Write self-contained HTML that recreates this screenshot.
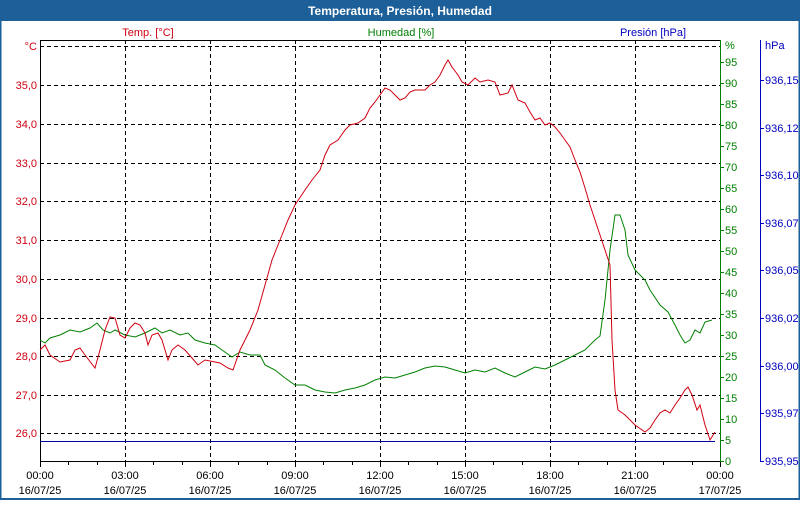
<!DOCTYPE html>
<html><head><style>
body{margin:0;width:800px;height:500px;overflow:hidden;background:#fff;font-family:"Liberation Sans","DejaVu Sans",sans-serif}
</style></head><body>
<svg width="800" height="500" xmlns="http://www.w3.org/2000/svg" font-family="Liberation Sans, DejaVu Sans, sans-serif" font-size="11">
<rect x="0" y="0" width="800" height="500" fill="#fff"/>
<rect x="0" y="0" width="800" height="21" fill="#1d5f98"/>
<rect x="0" y="0" width="1.5" height="500" fill="#1d5f98"/>
<rect x="798.5" y="0" width="1.5" height="500" fill="#1d5f98"/>
<rect x="0" y="498" width="800" height="2" fill="#1d5f98"/>
<text x="400" y="15" text-anchor="middle" fill="#fff" font-weight="bold" font-size="12">Temperatura, Presión, Humedad</text>
<text x="148" y="36" text-anchor="middle" fill="#d00010">Temp. [°C]</text>
<text x="401" y="36" text-anchor="middle" fill="#008000">Humedad [%]</text>
<text x="653" y="36" text-anchor="middle" fill="#0000c0">Presión [hPa]</text>
<g stroke="#000" stroke-dasharray="4,3" stroke-width="1">
<line x1="40" y1="46.5" x2="720" y2="46.5"/><line x1="40" y1="85.5" x2="720" y2="85.5"/><line x1="40" y1="124.5" x2="720" y2="124.5"/><line x1="40" y1="163.5" x2="720" y2="163.5"/><line x1="40" y1="201.5" x2="720" y2="201.5"/><line x1="40" y1="240.5" x2="720" y2="240.5"/><line x1="40" y1="279.5" x2="720" y2="279.5"/><line x1="40" y1="318.5" x2="720" y2="318.5"/><line x1="40" y1="356.5" x2="720" y2="356.5"/><line x1="40" y1="395.5" x2="720" y2="395.5"/><line x1="40" y1="433.5" x2="720" y2="433.5"/>
<line x1="125.5" y1="40" x2="125.5" y2="461"/><line x1="210.5" y1="40" x2="210.5" y2="461"/><line x1="295.5" y1="40" x2="295.5" y2="461"/><line x1="380.5" y1="40" x2="380.5" y2="461"/><line x1="465.5" y1="40" x2="465.5" y2="461"/><line x1="550.5" y1="40" x2="550.5" y2="461"/><line x1="635.5" y1="40" x2="635.5" y2="461"/>
</g>
<line x1="40" y1="40.5" x2="720" y2="40.5" stroke="#000"/>
<line x1="40.5" y1="40" x2="40.5" y2="461" stroke="#000"/>
<line x1="40" y1="461.5" x2="720" y2="461.5" stroke="#000"/>
<g stroke="#000">
<line x1="68.5" y1="461" x2="68.5" y2="465"/><line x1="97.5" y1="461" x2="97.5" y2="465"/><line x1="40.5" y1="461" x2="40.5" y2="467"/><line x1="125.5" y1="461" x2="125.5" y2="467"/><line x1="153.5" y1="461" x2="153.5" y2="465"/><line x1="182.5" y1="461" x2="182.5" y2="465"/><line x1="210.5" y1="461" x2="210.5" y2="467"/><line x1="238.5" y1="461" x2="238.5" y2="465"/><line x1="267.5" y1="461" x2="267.5" y2="465"/><line x1="295.5" y1="461" x2="295.5" y2="467"/><line x1="323.5" y1="461" x2="323.5" y2="465"/><line x1="352.5" y1="461" x2="352.5" y2="465"/><line x1="380.5" y1="461" x2="380.5" y2="467"/><line x1="408.5" y1="461" x2="408.5" y2="465"/><line x1="437.5" y1="461" x2="437.5" y2="465"/><line x1="465.5" y1="461" x2="465.5" y2="467"/><line x1="493.5" y1="461" x2="493.5" y2="465"/><line x1="522.5" y1="461" x2="522.5" y2="465"/><line x1="550.5" y1="461" x2="550.5" y2="467"/><line x1="578.5" y1="461" x2="578.5" y2="465"/><line x1="607.5" y1="461" x2="607.5" y2="465"/><line x1="635.5" y1="461" x2="635.5" y2="467"/><line x1="663.5" y1="461" x2="663.5" y2="465"/><line x1="692.5" y1="461" x2="692.5" y2="465"/><line x1="720.5" y1="461" x2="720.5" y2="467"/>
</g>
<g text-anchor="middle" fill="#000">
<text x="40" y="479">00:00</text><text x="40" y="494">16/07/25</text>
<text x="125" y="479">03:00</text><text x="125" y="494">16/07/25</text>
<text x="210" y="479">06:00</text><text x="210" y="494">16/07/25</text>
<text x="295" y="479">09:00</text><text x="295" y="494">16/07/25</text>
<text x="380" y="479">12:00</text><text x="380" y="494">16/07/25</text>
<text x="465" y="479">15:00</text><text x="465" y="494">16/07/25</text>
<text x="550" y="479">18:00</text><text x="550" y="494">16/07/25</text>
<text x="635" y="479">21:00</text><text x="635" y="494">16/07/25</text>
<text x="720" y="479">00:00</text><text x="720" y="494">17/07/25</text>
</g>
<g text-anchor="end" fill="#d00010">
<text x="37" y="50">°C</text><text x="37" y="89">35,0</text><text x="37" y="128">34,0</text><text x="37" y="167">33,0</text><text x="37" y="205">32,0</text><text x="37" y="244">31,0</text><text x="37" y="283">30,0</text><text x="37" y="322">29,0</text><text x="37" y="360">28,0</text><text x="37" y="399">27,0</text><text x="37" y="437">26,0</text>
</g>
<line x1="720.5" y1="40" x2="720.5" y2="461" stroke="#008000"/>
<g stroke="#008000">
<line x1="720" y1="461.5" x2="724" y2="461.5"/><line x1="720" y1="440.5" x2="724" y2="440.5"/><line x1="720" y1="419.5" x2="724" y2="419.5"/><line x1="720" y1="398.5" x2="724" y2="398.5"/><line x1="720" y1="377.5" x2="724" y2="377.5"/><line x1="720" y1="356.5" x2="724" y2="356.5"/><line x1="720" y1="335.5" x2="724" y2="335.5"/><line x1="720" y1="314.5" x2="724" y2="314.5"/><line x1="720" y1="293.5" x2="724" y2="293.5"/><line x1="720" y1="272.5" x2="724" y2="272.5"/><line x1="720" y1="251.5" x2="724" y2="251.5"/><line x1="720" y1="230.5" x2="724" y2="230.5"/><line x1="720" y1="209.5" x2="724" y2="209.5"/><line x1="720" y1="188.5" x2="724" y2="188.5"/><line x1="720" y1="167.5" x2="724" y2="167.5"/><line x1="720" y1="146.5" x2="724" y2="146.5"/><line x1="720" y1="125.5" x2="724" y2="125.5"/><line x1="720" y1="104.5" x2="724" y2="104.5"/><line x1="720" y1="83.5" x2="724" y2="83.5"/><line x1="720" y1="62.5" x2="724" y2="62.5"/>
</g>
<g fill="#008000">
<text x="725" y="49">%</text><text x="725" y="66">95</text><text x="725" y="87">90</text><text x="725" y="108">85</text><text x="725" y="129">80</text><text x="725" y="150">75</text><text x="725" y="171">70</text><text x="725" y="192">65</text><text x="725" y="213">60</text><text x="725" y="234">55</text><text x="725" y="255">50</text><text x="725" y="276">45</text><text x="725" y="297">40</text><text x="725" y="318">35</text><text x="725" y="339">30</text><text x="725" y="360">25</text><text x="725" y="381">20</text><text x="725" y="402">15</text><text x="725" y="423">10</text><text x="725" y="444">5</text><text x="725" y="465">0</text>
</g>
<line x1="760.5" y1="40" x2="760.5" y2="461" stroke="#0000c0"/>
<g stroke="#0000c0">
<line x1="760" y1="80.5" x2="764" y2="80.5"/><line x1="760" y1="128.5" x2="764" y2="128.5"/><line x1="760" y1="175.5" x2="764" y2="175.5"/><line x1="760" y1="223.5" x2="764" y2="223.5"/><line x1="760" y1="270.5" x2="764" y2="270.5"/><line x1="760" y1="318.5" x2="764" y2="318.5"/><line x1="760" y1="366.5" x2="764" y2="366.5"/><line x1="760" y1="413.5" x2="764" y2="413.5"/><line x1="760" y1="461.5" x2="764" y2="461.5"/>
</g>
<g fill="#0000c0">
<text x="765" y="49">hPa</text><text x="765" y="84">936,15</text><text x="765" y="132">936,12</text><text x="765" y="179">936,10</text><text x="765" y="227">936,07</text><text x="765" y="274">936,05</text><text x="765" y="322">936,02</text><text x="765" y="370">936,00</text><text x="765" y="417">935,97</text><text x="765" y="465">935,95</text>
</g>
<line x1="40" y1="441.5" x2="715" y2="441.5" stroke="#0000a0"/>
<polyline fill="none" stroke="#008000" points="40,340 45,343 50,338 60,335 70,330 80,332 90,328 97,323 103,330 110,333 115,330 125,335 135,337 145,333 155,328 162,333 170,330 180,335 188,333 195,340 205,343 215,345 222,350 232,357 240,352 250,355 260,355 265,365 275,370 285,378 295,385 305,385 315,390 325,392 335,393 345,390 355,388 365,385 375,380 385,377 395,378 405,375 415,372 425,368 435,366 445,367 455,370 465,373 475,370 485,372 495,368 505,373 515,377 525,372 535,367 545,369 555,365 565,360 575,355 585,350 595,340 600,336 605,300 610,250 615,215 620,215 625,230 628,255 635,270 645,280 650,290 660,305 668,312 675,325 680,335 685,343 690,340 695,330 700,333 705,322 712,320"/>
<polyline fill="none" stroke="#d00010" points="40,350 45,345 50,355 60,362 70,360 75,350 80,348 85,355 95,368 100,350 105,330 110,317 115,318 120,335 125,338 130,328 135,323 140,325 145,333 148,345 152,335 158,333 162,340 168,360 172,350 178,345 185,350 192,358 198,365 205,360 215,362 220,363 228,368 233,370 240,350 250,330 258,310 265,285 272,260 280,240 288,220 295,205 305,190 312,180 320,170 325,155 330,145 338,140 345,130 350,125 358,123 365,118 370,108 375,102 380,95 385,88 390,90 395,95 400,100 405,98 410,92 415,90 420,90 425,90 430,85 435,82 440,75 445,65 448,60 452,67 458,75 462,82 468,85 475,78 480,82 488,80 495,82 500,95 508,93 512,85 518,100 525,103 530,112 535,120 540,118 545,125 550,123 555,127 560,133 565,140 570,147 575,160 580,172 585,188 590,205 595,220 600,235 605,250 610,265 612,340 615,390 618,410 625,415 635,425 645,432 650,428 655,420 660,413 665,410 670,413 675,405 680,398 685,390 688,387 692,395 697,410 700,405 705,425 710,440 715,432"/>
</svg>
</body></html>
